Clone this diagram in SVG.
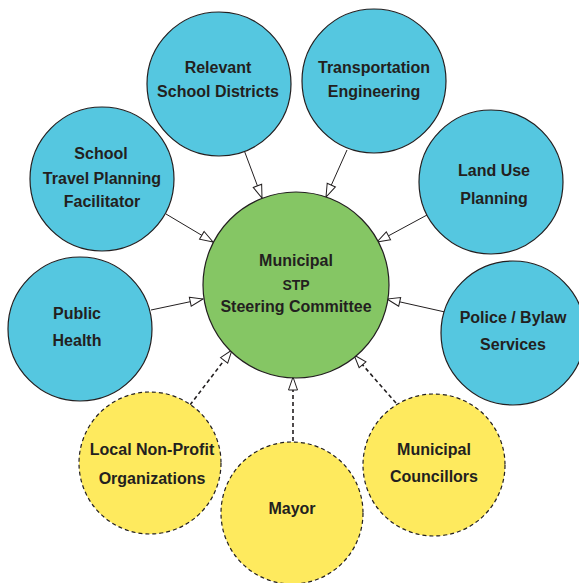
<svg xmlns="http://www.w3.org/2000/svg" width="579" height="583" viewBox="0 0 579 583">
<defs>
<style>
.blue{fill:#55c7e0;stroke:#231f20;stroke-width:1.2}
.yellow{fill:#feea5e;stroke:#231f20;stroke-width:1.2;stroke-dasharray:4 3}
.green{fill:#85c664;stroke:#231f20;stroke-width:1.2}
.t{font-family:"Liberation Sans",Arial,sans-serif;font-weight:bold;font-size:16px;fill:#231f20;text-anchor:middle}
.solid{stroke:#231f20;stroke-width:1;fill:none;marker-end:url(#open)}
.dash{stroke:#231f20;stroke-width:1.6;fill:none;stroke-dasharray:4 3;marker-end:url(#open)}
</style>
<marker id="open" markerUnits="userSpaceOnUse" markerWidth="16" markerHeight="12" refX="13" refY="5" orient="auto" viewBox="-1 -1 16 12">
<path d="M0,0.5 L13,5 L0,9.5 z" fill="#ffffff" stroke="#231f20" stroke-width="1" stroke-dasharray="none"/>
</marker>
</defs>
<rect width="579" height="583" fill="#ffffff"/>
<g id="connectors">
<line class="solid" x1="244" y1="150" x2="262" y2="198"/>
<line class="solid" x1="347" y1="150" x2="326" y2="197"/>
<line class="solid" x1="166" y1="214" x2="213" y2="242"/>
<line class="solid" x1="151" y1="310" x2="203" y2="299"/>
<line class="solid" x1="427" y1="215" x2="377" y2="242"/>
<line class="solid" x1="445" y1="312" x2="387" y2="299"/>
<line class="dash" x1="190" y1="405" x2="232" y2="350"/>
<line class="dash" x1="293" y1="441" x2="293" y2="377"/>
<line class="dash" x1="396" y1="403" x2="354" y2="355"/>
</g>
<g id="center">
<circle class="green" cx="296" cy="285" r="93"/>
<text class="t" x="296" y="266">Municipal</text>
<text class="t" x="296" y="290" style="font-size:14px">STP</text>
<text class="t" x="296" y="312">Steering Committee</text>
</g>
<g id="relevant-school-districts">
<circle class="blue" cx="219" cy="84" r="72"/>
<text class="t" x="218" y="73">Relevant</text>
<text class="t" x="218" y="97">School Districts</text>
</g>
<g id="transportation-engineering">
<circle class="blue" cx="374" cy="81" r="72"/>
<text class="t" x="374" y="73">Transportation</text>
<text class="t" x="374" y="97">Engineering</text>
</g>
<g id="school-travel-planning-facilitator">
<circle class="blue" cx="102" cy="179" r="72"/>
<text class="t" x="101" y="159">School</text>
<text class="t" x="102" y="184">Travel Planning</text>
<text class="t" x="102" y="207">Facilitator</text>
</g>
<g id="public-health">
<circle class="blue" cx="80" cy="329" r="72"/>
<text class="t" x="77" y="319">Public</text>
<text class="t" x="77" y="346">Health</text>
</g>
<g id="land-use-planning">
<circle class="blue" cx="491" cy="182" r="72"/>
<text class="t" x="494" y="176">Land Use</text>
<text class="t" x="494" y="204">Planning</text>
</g>
<g id="police-bylaw-services">
<circle class="blue" cx="513" cy="333" r="72"/>
<text class="t" x="513" y="323">Police / Bylaw</text>
<text class="t" x="513" y="350">Services</text>
</g>
<g id="local-non-profit-organizations">
<circle class="yellow" cx="150" cy="463" r="71"/>
<text class="t" x="152" y="455">Local Non-Profit</text>
<text class="t" x="152" y="484">Organizations</text>
</g>
<g id="mayor">
<circle class="yellow" cx="292" cy="513" r="71"/>
<text class="t" x="292" y="514">Mayor</text>
</g>
<g id="municipal-councillors">
<circle class="yellow" cx="434" cy="465" r="71"/>
<text class="t" x="434" y="455">Municipal</text>
<text class="t" x="434" y="482">Councillors</text>
</g>
</svg>
